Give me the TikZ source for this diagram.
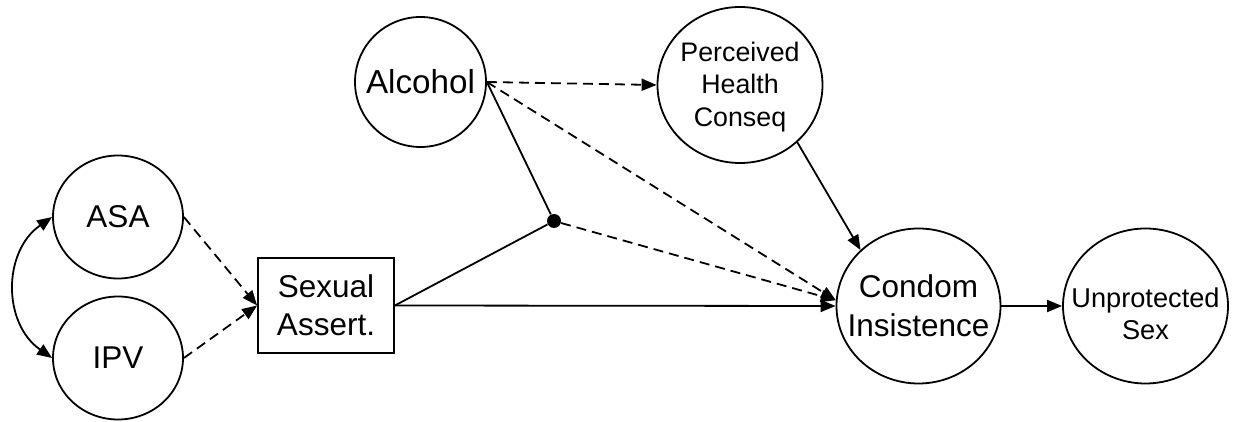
\documentclass[tikz,border=0pt]{standalone}
\usepackage{fontspec}
\setmainfont{Liberation Sans}
\usetikzlibrary{shapes.geometric,arrows.meta}
\tikzset{
  var/.style={draw, ellipse, line width=0.9pt, inner sep=0pt},
  lab/.style={align=center, inner sep=0pt},
  big/.style={font=\fontsize{15.75}{19.5}\selectfont},
  obs/.style={draw, rectangle, line width=0.9pt, inner sep=0pt, align=center, font=\fontsize{15.75}{19}\selectfont},
  conn/.style={line width=0.9pt, -{Triangle[length=7.5pt,width=6pt]}},
  plain/.style={line width=0.9pt},
  dsh/.style={dash pattern=on 5pt off 3pt},
}
\begin{document}
\begin{tikzpicture}[x=0.5pt,y=-0.5pt]
\useasboundingbox (0,0) rectangle (1238,422);
\node[var,minimum width=65pt,minimum height=61.5pt,label={[lab,big]center:ASA}] (asa) at (118,217) {};
\node[var,minimum width=65pt,minimum height=61.5pt,label={[lab,big]center:IPV}] (ipv) at (118,358) {};
\node[obs,minimum width=68pt,minimum height=47.5pt] (sa) at (326,305.5) {Sexual\\Assert.};
\node[var,minimum width=65.5pt,minimum height=65pt,label={[lab,font=\fontsize{16.6}{20}\selectfont]center:Alcohol}] (alc) at (420.5,82) {};
\node[var,minimum width=82.5pt,minimum height=78pt,label={[lab,font=\fontsize{13.4}{16.3}\selectfont,yshift=-1pt]center:Perceived\\Health\\Conseq}] (pc) at (740,85) {};
\node[var,minimum width=82pt,minimum height=77.5pt,label={[lab,big]center:Condom\\Insistence}] (ci) at (918.5,306) {};
\node[var,minimum width=82.5pt,minimum height=77.5pt,label={[lab,font=\fontsize{13.6}{16}\selectfont,yshift=-4pt]center:Unprotected\\Sex}] (us) at (1145.5,306) {};
\node[circle,fill,inner sep=0pt,minimum size=7pt] (dot) at (554,221) {};

\draw[conn,{Triangle[length=7.5pt,width=6pt]}-{Triangle[length=7.5pt,width=6pt]}] (asa.west) to[out=215,in=145,looseness=1.1] (ipv.west);
\draw[conn,dsh] (asa.east) -- (sa.west);
\draw[conn,dsh] (ipv.east) -- (sa.west);
\draw[plain] (sa.east) -- (dot);
\draw[plain] (alc.east) -- (dot);
\draw[conn] (sa.east) -- (ci.west);
\draw[conn,dsh] (alc.east) -- (pc.west);
\draw[conn,dsh] (alc.east) -- (ci.176);
\draw[conn,dsh] (dot) -- (ci.176);
\draw[conn] (pc.-45) -- (ci.136);
\draw[conn] (ci.east) -- (us.west);
\end{tikzpicture}
\end{document}
